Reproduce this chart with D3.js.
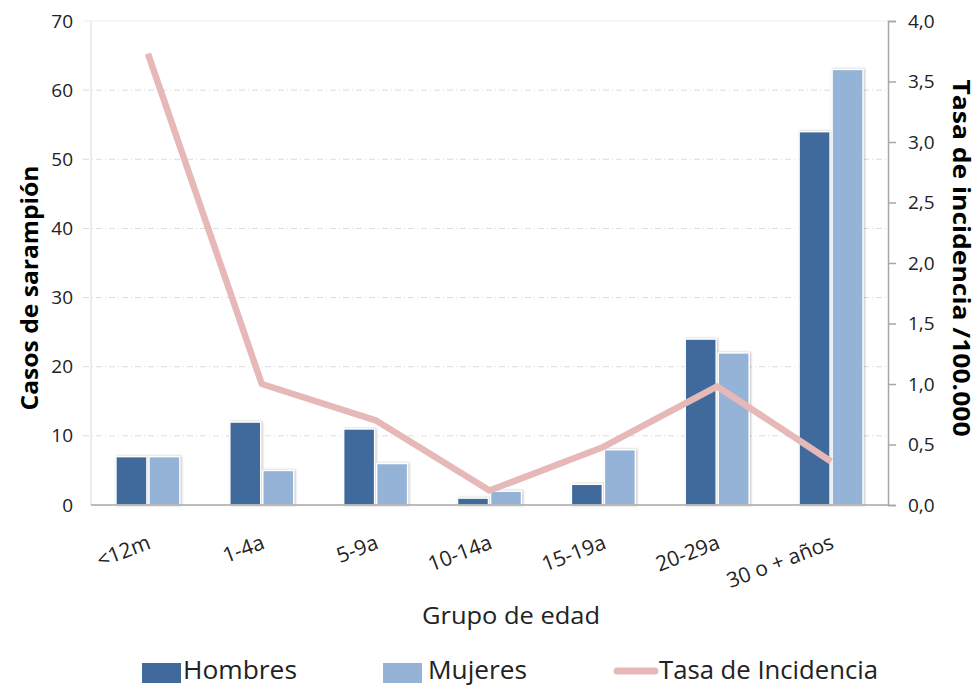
<!DOCTYPE html>
<html>
<head>
<meta charset="utf-8">
<script src="https://cdn.jsdelivr.net/npm/d3@7"></script>
<style>
  body { margin: 0; background: #fff; }
  svg { display: block; font-family: "Open Sans", "DejaVu Sans", sans-serif; }
</style>
</head>
<body>
<svg id="chart" width="980" height="686"></svg>
<script>
// age groups
const grupos = ['<12m', '1-4a', '5-9a', '10-14a', '15-19a', '20-29a', '30 o + años'];
// cases
const hombres = [7, 12, 11, 1, 3, 24, 54];
const mujeres = [7, 5, 6, 2, 8, 22, 63];
// incidence per 100.000
const tasa = [3.73, 1.0, 0.70, 0.12, 0.48, 0.98, 0.36];

const leftTicks = [0, 10, 20, 30, 40, 50, 60, 70];
const rightTicks = [0, 0.5, 1, 1.5, 2, 2.5, 3, 3.5, 4];

const colors = { hombres: '#416a9c', mujeres: '#95b3d7', tasa: '#e6b9b8' };

const svg = d3.select('svg#chart');

const m = { left: 91, right: 888, top: 21, bottom: 505 };

const x = d3.scaleBand().domain(grupos).range([m.left, m.right]).paddingInner(0).paddingOuter(0);
const y = d3.scaleLinear().domain([0, 70]).range([m.bottom, m.top]);
const y2 = d3.scaleLinear().domain([0, 4]).range([m.bottom, m.top]);

const barW = 31;

// grid lines
svg.append('g')
  .selectAll('line')
  .data(leftTicks.filter(d => d > 0))
  .join('line')
  .attr('x1', m.left - 8)
  .attr('x2', m.right)
  .attr('y1', d => y(d))
  .attr('y2', d => y(d))
  .attr('stroke', d => d === 70 ? '#eeeeee' : '#dcdcdc')
  .attr('stroke-dasharray', d => d === 70 ? null : '6,3,1,3')
  .attr('stroke-width', 1);

// left axis line
svg.append('line')
  .attr('x1', m.left).attr('x2', m.left)
  .attr('y1', m.top).attr('y2', m.bottom)
  .attr('stroke', '#d9d9d9');

// left axis labels
svg.append('g')
  .attr('transform', `translate(${m.left},0)`)
  .call(d3.axisLeft(y).tickValues(leftTicks).tickSize(0).tickPadding(18))
  .call(g => g.select('.domain').remove())
  .call(g => g.selectAll('text').attr('font-size', 19).attr('fill', '#222').attr('font-family', '"Open Sans", sans-serif'));

// right axis
svg.append('g')
  .attr('transform', `translate(${m.right},0)`)
  .call(d3.axisRight(y2).tickValues(rightTicks).tickSize(8).tickPadding(12)
    .tickFormat(d => d3.format('.1f')(d).replace('.', ',')))
  .call(g => g.select('.domain').attr('stroke', '#a6a6a6').attr('stroke-width', 1.5))
  .call(g => g.selectAll('.tick line').attr('stroke', '#a6a6a6').attr('stroke-width', 1.5))
  .call(g => g.selectAll('text').attr('font-size', 19).attr('fill', '#222').attr('font-family', '"Open Sans", sans-serif'));

// bars
const bars = svg.append('g');
[[hombres, colors.hombres, 0], [mujeres, colors.mujeres, 1]].forEach(([vals, col, k]) => {
  bars.append('g')
    .selectAll('rect')
    .data(vals)
    .join('rect')
    .attr('x', (d, i) => x(grupos[i]) + x.bandwidth() / 2 - barW - 1 + k * (barW + 2))
    .attr('y', d => y(d))
    .attr('width', barW)
    .attr('height', d => y(0) - y(d))
    .attr('fill', col)
    .attr('stroke', '#ffffff')
    .attr('stroke-width', 1.5)
    .style('filter', 'drop-shadow(1px 0px 1px rgba(0,0,0,0.25))');
});

// bottom axis line
svg.append('line')
  .attr('x1', m.left).attr('x2', m.right)
  .attr('y1', m.bottom).attr('y2', m.bottom)
  .attr('stroke', '#a6a6a6').attr('stroke-width', 1.5);

// incidence line
const line = d3.line()
  .x((d, i) => x(grupos[i]) + x.bandwidth() / 2)
  .y(d => y2(d));

svg.append('path')
  .datum(tasa)
  .attr('d', line)
  .attr('fill', 'none')
  .attr('stroke', colors.tasa)
  .attr('stroke-width', 6.5)
  .attr('stroke-linejoin', 'round');

// category labels
svg.append('g')
  .selectAll('text')
  .data(grupos)
  .join('text')
  .attr('transform', d => `translate(${x(d) + x.bandwidth() / 2 + 4},${m.bottom + 43}) rotate(-21)`)
  .attr('text-anchor', 'end')
  .attr('font-size', 21)
  .attr('fill', '#222')
  .attr('font-family', '"Open Sans", sans-serif')
  .text(d => d);

// axis titles
svg.append('text')
  .attr('transform', `translate(38,288) rotate(-90)`)
  .attr('text-anchor', 'middle')
  .attr('font-size', 24)
  .attr('font-weight', 'bold')
  .attr('fill', '#000')
  .attr('textLength', 245)
  .attr('lengthAdjust', 'spacingAndGlyphs')
  .text('Casos de sarampión');

svg.append('text')
  .attr('transform', `translate(953,258) rotate(90)`)
  .attr('text-anchor', 'middle')
  .attr('font-size', 24)
  .attr('font-weight', 'bold')
  .attr('fill', '#000')
  .attr('textLength', 357)
  .attr('lengthAdjust', 'spacingAndGlyphs')
  .text('Tasa de incidencia /100.000');

svg.append('text')
  .attr('x', 511)
  .attr('y', 624)
  .attr('text-anchor', 'middle')
  .attr('font-size', 24)
  .attr('fill', '#222')
  .attr('textLength', 178)
  .attr('lengthAdjust', 'spacingAndGlyphs')
  .text('Grupo de edad');

// legend
const legend = [
  { label: 'Hombres', color: colors.hombres, type: 'rect', x: 142, tx: 183, w: 114 },
  { label: 'Mujeres', color: colors.mujeres, type: 'rect', x: 383, tx: 428, w: 99 },
  { label: 'Tasa de Incidencia', color: colors.tasa, type: 'line', x: 617, tx: 659, w: 219 }
];

const lg = svg.append('g').selectAll('g').data(legend).join('g');

lg.filter(d => d.type === 'rect').append('rect')
  .attr('x', d => d.x).attr('y', 663).attr('width', 39).attr('height', 20)
  .attr('fill', d => d.color);

lg.filter(d => d.type === 'line').append('line')
  .attr('x1', d => d.x).attr('x2', d => d.x + 38).attr('y1', 671).attr('y2', 671)
  .attr('stroke', d => d.color).attr('stroke-width', 7).attr('stroke-linecap', 'round');

lg.append('text')
  .attr('x', d => d.tx)
  .attr('y', 679)
  .attr('font-size', 25)
  .attr('fill', '#222')
  .attr('textLength', d => d.w)
  .attr('lengthAdjust', 'spacingAndGlyphs')
  .text(d => d.label);
</script>
</body>
</html>
